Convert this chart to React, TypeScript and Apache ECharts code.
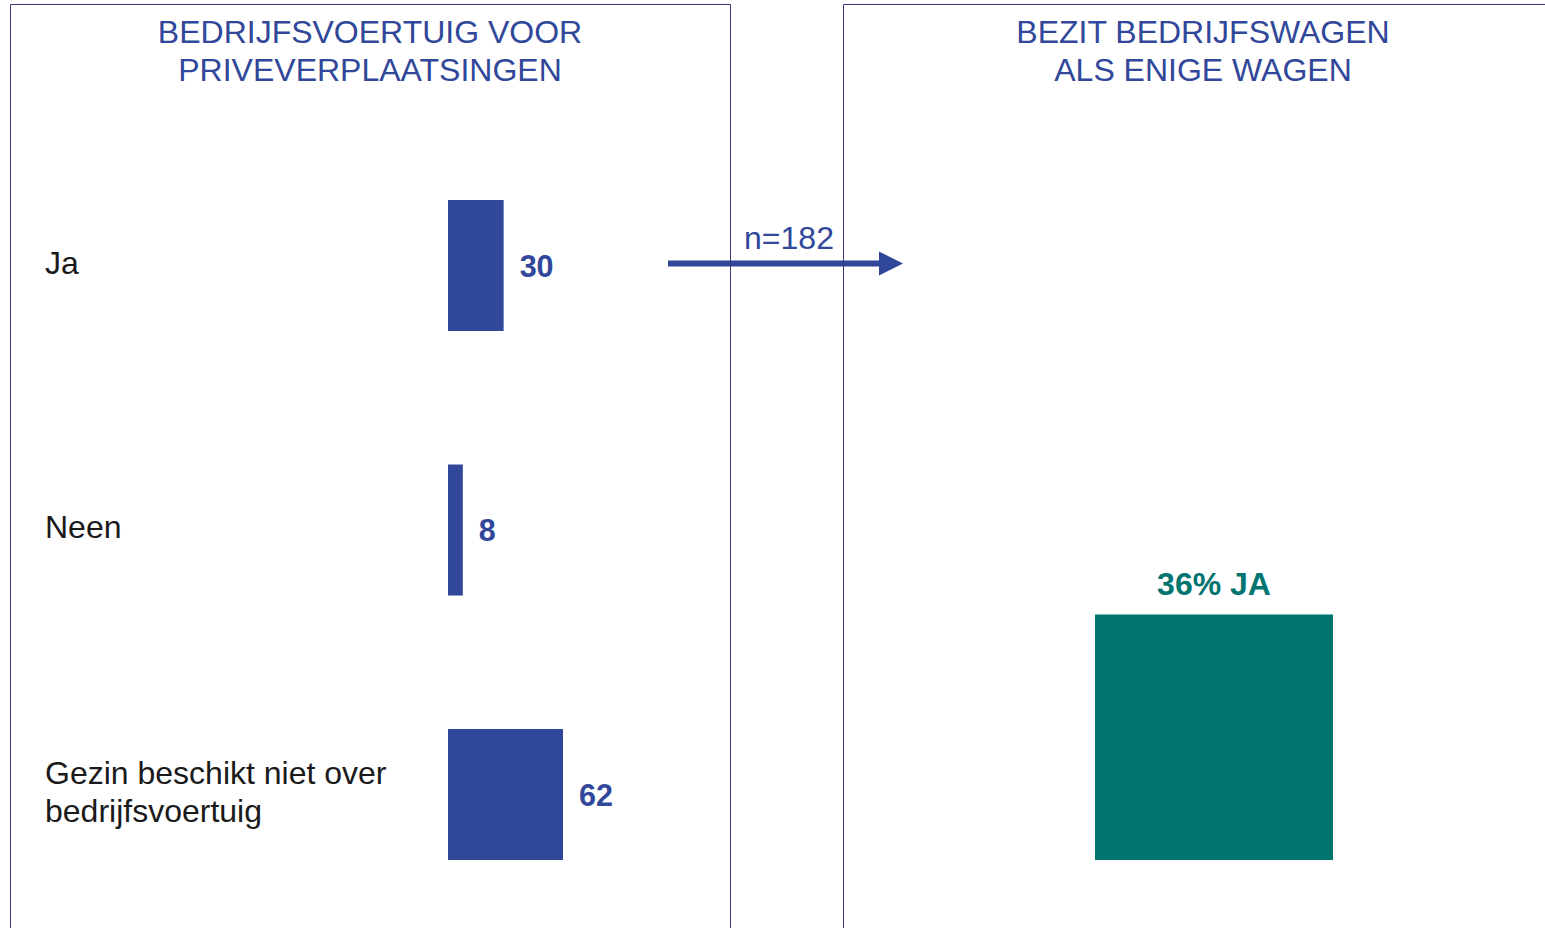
import React, { useEffect, useRef } from "react";
import * as echarts from "echarts";

const leftCategories = ["Ja", "Neen", "Gezin beschikt niet over\nbedrijfsvoertuig"];
const leftValues = [30, 8, 62];
const rightCategories = ["JA"];
const rightValues = [36];
const leftTitle = "BEDRIJFSVOERTUIG VOOR\nPRIVEVERPLAATSINGEN";
const rightTitle = "BEZIT BEDRIJFSWAGEN\nALS ENIGE WAGEN";
const sampleLabel = "n=182";

const BLUE = "#30479A";
const TEAL = "#00756F";
const BORDER = "#353A78";
const FONT = "Liberation Sans, Arial, sans-serif";

export default function App() {
  const ref = useRef<HTMLDivElement>(null);
  useEffect(() => {
    if (!ref.current) return;
    const chart = echarts.init(ref.current, null, { renderer: "svg" });
    chart.setOption({
      animation: false,
      backgroundColor: "#ffffff",
      textStyle: { fontFamily: FONT },
      grid: [
        { left: 448, top: 133.25, width: 185.5, height: 793.5 },
        { left: 1014, top: 178, width: 400, height: 682 },
      ],
      xAxis: [
        { gridIndex: 0, type: "value", min: 0, max: 100, show: false },
        { gridIndex: 1, type: "category", data: rightCategories, show: false },
      ],
      yAxis: [
        {
          gridIndex: 0,
          type: "category",
          inverse: true,
          data: leftCategories,
          axisLine: { show: false },
          axisTick: { show: false },
          splitLine: { show: false },
          axisLabel: {
            align: "left",
            margin: 403,
            fontSize: 32,
            lineHeight: 38,
            color: "#1a1a1a",
            fontFamily: FONT,
            formatter: (v: string) =>
              v
                .split("\n")
                .map((l) => `{t|${l}}`)
                .join("\n") + "\n{s| }",
            rich: {
              t: { fontSize: 32, lineHeight: 38, color: "#1a1a1a", fontFamily: FONT },
              s: { fontSize: 2, lineHeight: 6 },
            },
          },
        },
        { gridIndex: 1, type: "value", min: 0, max: 100, show: false },
      ],
      series: [
        {
          type: "bar",
          xAxisIndex: 0,
          yAxisIndex: 0,
          data: leftValues,
          barWidth: 131,
          itemStyle: { color: BLUE },
          label: {
            show: true,
            position: "right",
            distance: 16,
            fontSize: 30.5,
            fontWeight: "bold",
            color: BLUE,
            fontFamily: FONT,
          },
        },
        {
          type: "bar",
          xAxisIndex: 1,
          yAxisIndex: 1,
          data: rightValues,
          barWidth: 238,
          itemStyle: { color: TEAL },
          label: {
            show: true,
            position: "top",
            distance: 14,
            fontSize: 32,
            fontWeight: "bold",
            color: TEAL,
            fontFamily: FONT,
            formatter: (p: any) => `${p.value}% ${rightCategories[p.dataIndex]}`,
          },
        },
      ],
      graphic: [
        {
          type: "rect",
          shape: { x: 10.5, y: 4.5, width: 720, height: 1000 },
          style: { fill: "none", stroke: BORDER, lineWidth: 1 },
          z: 10,
        },
        {
          type: "rect",
          shape: { x: 843.5, y: 4.5, width: 800, height: 1000 },
          style: { fill: "none", stroke: BORDER, lineWidth: 1 },
          z: 10,
        },
        {
          type: "text",
          x: 370,
          y: 13,
          style: {
            text: leftTitle,
            fill: BLUE,
            font: `32px ${FONT}`,
            textAlign: "center",
            textVerticalAlign: "top",
            lineHeight: 38,
          },
        },
        {
          type: "text",
          x: 1203,
          y: 13,
          style: {
            text: rightTitle,
            fill: BLUE,
            font: `32px ${FONT}`,
            textAlign: "center",
            textVerticalAlign: "top",
            lineHeight: 38,
          },
        },
        {
          type: "text",
          x: 789,
          y: 238,
          style: {
            text: sampleLabel,
            fill: BLUE,
            font: `32px ${FONT}`,
            textAlign: "center",
            textVerticalAlign: "middle",
          },
        },
        {
          type: "line",
          shape: { x1: 668, y1: 263.5, x2: 882, y2: 263.5 },
          style: { stroke: BLUE, lineWidth: 6 },
          z: 5,
        },
        {
          type: "polygon",
          shape: { points: [[879, 251.5], [903, 263.5], [879, 275.5]] },
          style: { fill: BLUE },
          z: 5,
        },
      ],
    });
    return () => chart.dispose();
  }, []);
  return (
    <div
      ref={ref}
      style={{ position: "absolute", left: 0, top: 0, width: 1545, height: 928 }}
    />
  );
}
